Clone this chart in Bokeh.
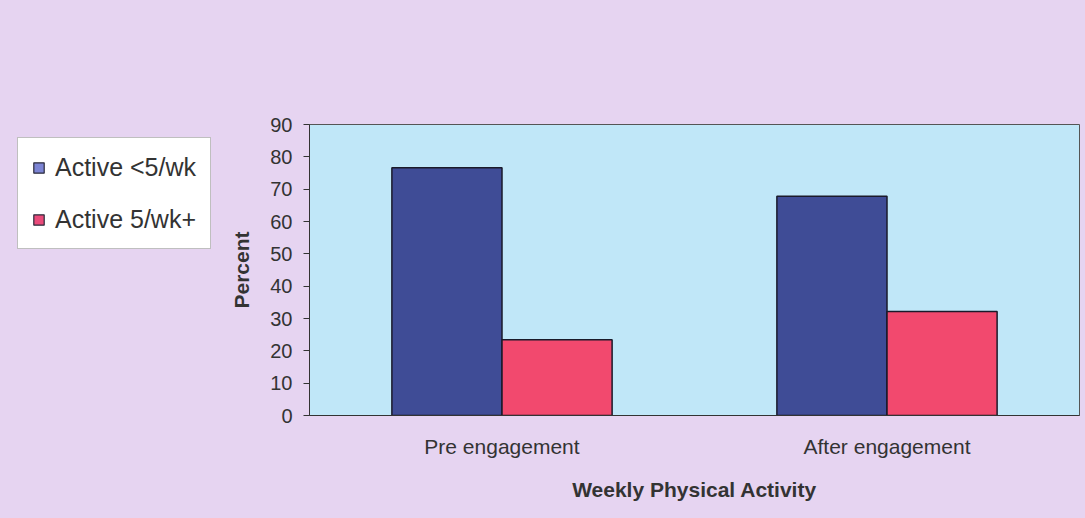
from bokeh.plotting import figure
from bokeh.layouts import row
from bokeh.models import ColumnDataSource, FactorRange, Range1d, Legend, LegendItem, FixedTicker
from bokeh.transform import dodge
from bokeh.embed import file_html
from bokeh.resources import INLINE

categories = ["Pre engagement", "After engagement"]
series_names = ["Active <5/wk", "Active 5/wk+"]
active_lt5 = [76.6, 67.8]
active_5plus = [23.4, 32.2]
y_ticks = [0, 10, 20, 30, 40, 50, 60, 70, 80, 90]

BLUE = "#3F4C96"
PINK = "#F2496E"
LILAC = "#E6D4F1"
FONT = "Liberation Sans"

src = ColumnDataSource(dict(cat=categories, a=active_lt5, b=active_5plus))

# ---- main chart ----
p = figure(
    x_range=FactorRange(*categories),
    y_range=Range1d(0, 90),
    width=865, height=518,
    min_border_left=89, min_border_right=6,
    min_border_top=124, min_border_bottom=103,
    output_backend="svg", toolbar_location=None,
)
p.background_fill_color = "#C0E7F8"
p.border_fill_color = LILAC
p.outline_line_color = "#555555"
p.outline_line_width = 1
p.xgrid.visible = False
p.ygrid.visible = False

bw = 0.286
p.vbar(x=dodge("cat", -bw / 2, range=p.x_range), top="a", width=bw, source=src,
       fill_color=BLUE, line_color="#1A1A2A", line_width=1.5)
p.vbar(x=dodge("cat", bw / 2, range=p.x_range), top="b", width=bw, source=src,
       fill_color=PINK, line_color="#1A1A2A", line_width=1.5)

p.yaxis.ticker = FixedTicker(ticks=y_ticks)
p.yaxis.minor_tick_line_color = None
p.yaxis.major_tick_in = 0
p.yaxis.major_tick_out = 6
p.yaxis.major_tick_line_color = "#333333"
p.yaxis.axis_line_color = "#333333"
p.yaxis.major_label_text_font = FONT
p.yaxis.major_label_text_font_size = "20px"
p.yaxis.major_label_text_color = "#333333"
p.yaxis.major_label_standoff = 11
p.yaxis.axis_label = "Percent"
p.yaxis.axis_label_text_font = FONT
p.yaxis.axis_label_text_font_size = "21px"
p.yaxis.axis_label_text_font_style = "bold"
p.yaxis.axis_label_text_color = "#333333"
p.yaxis.axis_label_standoff = 14

p.xaxis.major_tick_line_color = None
p.xaxis.minor_tick_line_color = None
p.xaxis.axis_line_color = "#333333"
p.xaxis.major_label_text_font = FONT
p.xaxis.major_label_text_font_size = "21px"
p.xaxis.major_label_text_color = "#333333"
p.xaxis.major_label_standoff = 13
p.xaxis.axis_label = "Weekly Physical Activity"
p.xaxis.axis_label_text_font = FONT
p.xaxis.axis_label_text_font_size = "21px"
p.xaxis.axis_label_text_font_style = "bold"
p.xaxis.axis_label_text_color = "#333333"
p.xaxis.axis_label_standoff = 17

# ---- legend panel ----
lg = figure(
    x_range=FactorRange(*categories), y_range=Range1d(0, 90),
    width=220, height=518,
    min_border_left=0, min_border_right=0, min_border_top=0, min_border_bottom=0,
    x_axis_location=None, y_axis_location=None,
    output_backend="svg", toolbar_location=None,
)
lg.background_fill_alpha = 0
lg.border_fill_color = LILAC
lg.outline_line_color = None
lg.xgrid.visible = False
lg.ygrid.visible = False
k1 = lg.vbar(x="cat", top="a", width=bw, source=src,
             fill_color="#7C84D4", line_color="#2A2A3A", line_width=1.2, visible=False)
k2 = lg.vbar(x="cat", top="b", width=bw, source=src,
             fill_color="#EA4A7A", line_color="#2A2A3A", line_width=1.2, visible=False)

legend = Legend(
    items=[LegendItem(label=series_names[0], renderers=[k1]),
           LegendItem(label=series_names[1], renderers=[k2])],
    location=(17, 166),
    label_text_font=FONT,
    label_text_font_size="25px",
    label_text_color="#333333",
    glyph_width=13, glyph_height=13,
    label_standoff=10,
    label_height=30,
    spacing=22,
    padding=14,
    margin=0,
    border_line_color="#808080",
    background_fill_color="white",
    background_fill_alpha=1.0,
)
lg.add_layout(legend, "center")

layout = row(lg, p, styles={"background-color": LILAC})
open("out.html", "w").write(file_html(layout, INLINE))
